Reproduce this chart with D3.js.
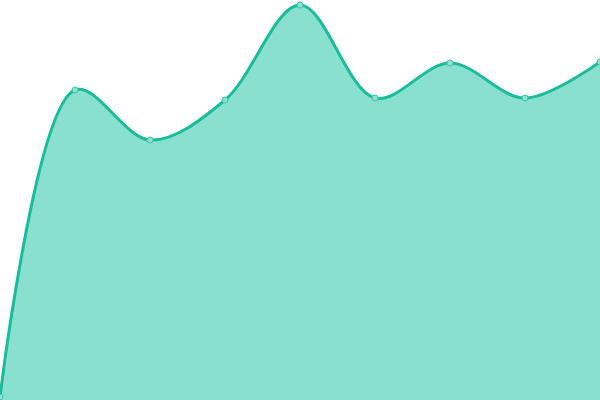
<!DOCTYPE html>
<html>
<head>
<meta charset="utf-8">
<style>
  html, body { margin: 0; padding: 0; background: #fff; }
  svg { display: block; }
</style>
<script src="https://cdn.jsdelivr.net/npm/d3@7"></script>
</head>
<body>
<div id="chart"></div>
<script>
// data
var labels = ["1", "2", "3", "4", "5", "6", "7", "8", "9"];
var values = [0.75, 77.5, 65, 75, 98.75, 75.5, 84.25, 75.5, 84.5];

var svgWidth = 600;
var svgHeight = 400;

var svg = d3.select("#chart")
  .append("svg")
  .attr("width", svgWidth)
  .attr("height", svgHeight);

var xScale = d3.scalePoint()
  .domain(labels)
  .range([0, svgWidth]);

var yScale = d3.scaleLinear()
  .domain([0, 100])
  .range([svgHeight, 0]);

var data = labels.map(function(l, i) { return { label: l, value: values[i] }; });

var curve = d3.curveCatmullRom.alpha(0.5);

var area = d3.area()
  .x(d => xScale(d.label))
  .y0(svgHeight)
  .y1(d => yScale(d.value))
  .curve(curve);

var line = d3.line()
  .x(d => xScale(d.label))
  .y(d => yScale(d.value))
  .curve(curve);

svg.append("path")
  .datum(data)
  .attr("d", area)
  .attr("fill", "#89e0ce");

svg.append("path")
  .datum(data)
  .attr("d", line)
  .attr("fill", "none")
  .attr("stroke", "#1abc9c")
  .attr("stroke-width", 3);

svg.selectAll("circle")
  .data(data)
  .enter()
  .append("circle")
  .attr("cx", d => xScale(d.label))
  .attr("cy", d => yScale(d.value))
  .attr("r", 3)
  .attr("fill", "#8ee0cf")
  .attr("stroke", "#3cc5a8")
  .attr("stroke-width", 1);
</script>
</body>
</html>
